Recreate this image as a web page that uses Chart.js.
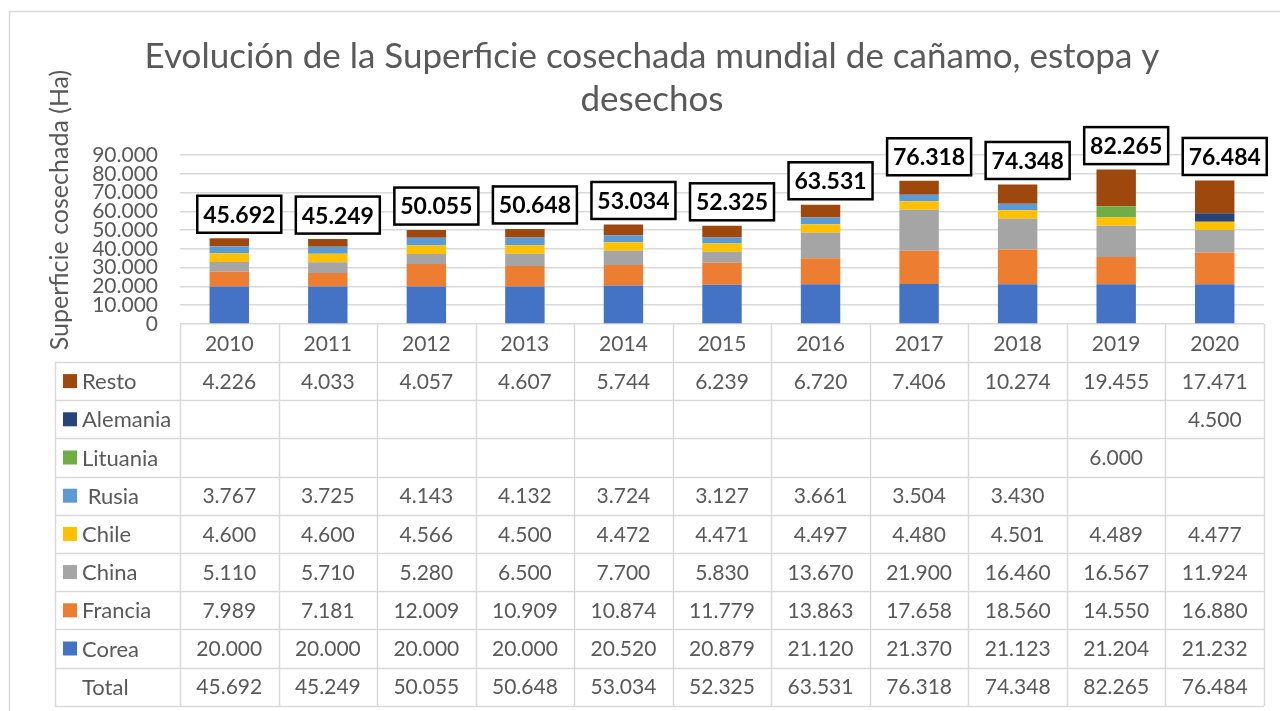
<!DOCTYPE html>
<html>
<head>
<meta charset="utf-8">
<script src="https://cdn.jsdelivr.net/npm/chart.js@4.4.1/dist/chart.umd.min.js"></script>
<style>
  html, body { margin: 0; padding: 0; background: #fff; }
  #wrap { width: 1280px; height: 711px; }
</style>
</head>
<body>
<div id="wrap"><canvas id="chart" width="1280" height="711"></canvas></div>
<script>
// categories
const years = ['2010', '2011', '2012', '2013', '2014', '2015', '2016', '2017', '2018', '2019', '2020'];

// series (Ha)
const corea    = [20000, 20000, 20000, 20000, 20520, 20879, 21120, 21370, 21123, 21204, 21232];
const francia  = [7989, 7181, 12009, 10909, 10874, 11779, 13863, 17658, 18560, 14550, 16880];
const china    = [5110, 5710, 5280, 6500, 7700, 5830, 13670, 21900, 16460, 16567, 11924];
const chile    = [4600, 4600, 4566, 4500, 4472, 4471, 4497, 4480, 4501, 4489, 4477];
const rusia    = [3767, 3725, 4143, 4132, 3724, 3127, 3661, 3504, 3430, null, null];
const lituania = [null, null, null, null, null, null, null, null, null, 6000, null];
const alemania = [null, null, null, null, null, null, null, null, null, null, 4500];
const resto    = [4226, 4033, 4057, 4607, 5744, 6239, 6720, 7406, 10274, 19455, 17471];
const totals   = [45692, 45249, 50055, 50648, 53034, 52325, 63531, 76318, 74348, 82265, 76484];

// y axis ticks
const yTicks = [0, 10000, 20000, 30000, 40000, 50000, 60000, 70000, 80000, 90000];

const FONT = 'Lato';
const GREY = '#595959';
const LINE = '#d9d9d9';

function fmt(n) {
  if (n === null || n === undefined) return '';
  return String(n).replace(/\B(?=(\d{3})+(?!\d))/g, '.');
}

const series = [
  { label: 'Corea', data: corea, color: '#4472C4' },
  { label: 'Francia', data: francia, color: '#ED7D31' },
  { label: 'China', data: china, color: '#A5A5A5' },
  { label: 'Chile', data: chile, color: '#FFC000' },
  { label: ' Rusia', data: rusia, color: '#5B9BD5' },
  { label: 'Lituania', data: lituania, color: '#70AD47' },
  { label: 'Alemania', data: alemania, color: '#264478' },
  { label: 'Resto', data: resto, color: '#9E480E' }
];

// outer frame + y axis title
const framePlugin = {
  id: 'frame',
  beforeDraw(chart) {
    const ctx = chart.ctx;
    ctx.save();
    ctx.fillStyle = '#fff';
    ctx.fillRect(0, 0, chart.width, chart.height);
    ctx.strokeStyle = LINE;
    ctx.lineWidth = 1.5;
    ctx.strokeRect(9.5, 11.5, chart.width + 20, chart.height + 20);
    ctx.translate(60, 210);
    ctx.rotate(-Math.PI / 2);
    ctx.fillStyle = GREY;
    ctx.font = '25px ' + FONT;
    ctx.textAlign = 'center';
    ctx.textBaseline = 'middle';
    ctx.fillText('Superficie cosechada (Ha)', 0, 0);
    ctx.restore();
  }
};

// data table under the plot
const tablePlugin = {
  id: 'dataTable',
  afterDraw(chart) {
    const ctx = chart.ctx;
    const area = chart.chartArea;
    const x = chart.scales.x;
    const colW = area.width / years.length;
    const headTop = area.bottom;
    const rowTop = 362;
    const rowH = 38.2;
    const leftX = 55;
    const rows = series.slice().reverse();
    const nRows = rows.length + 1;
    const bottom = rowTop + nRows * rowH;

    ctx.save();
    ctx.strokeStyle = LINE;
    ctx.lineWidth = 1.5;
    ctx.beginPath();
    for (let i = 0; i <= years.length; i++) {
      const px = Math.round(area.left + i * colW) + 0.5;
      ctx.moveTo(px, headTop);
      ctx.lineTo(px, bottom);
    }
    ctx.moveTo(leftX + 0.5, rowTop);
    ctx.lineTo(leftX + 0.5, bottom);
    for (let r = 0; r <= nRows; r++) {
      const py = Math.round(rowTop + r * rowH) + 0.5;
      ctx.moveTo(leftX, py);
      ctx.lineTo(area.right, py);
    }
    ctx.stroke();

    ctx.fillStyle = GREY;
    ctx.font = '21px ' + FONT;
    ctx.textBaseline = 'middle';
    ctx.textAlign = 'center';
    years.forEach((yr, i) => ctx.fillText(yr, x.getPixelForValue(i), (headTop + rowTop) / 2 + 1));

    rows.forEach((s, r) => {
      const cy = rowTop + r * rowH + rowH / 2;
      ctx.fillStyle = s.color;
      ctx.fillRect(63, cy - 7, 14, 14);
      ctx.fillStyle = GREY;
      ctx.textAlign = 'left';
      ctx.font = '22px ' + FONT;
      ctx.fillText(s.label, 82, cy + 1);
      ctx.font = '21px ' + FONT;
      ctx.textAlign = 'center';
      s.data.forEach((v, i) => ctx.fillText(fmt(v), x.getPixelForValue(i), cy + 1));
    });
    const ty = rowTop + rows.length * rowH + rowH / 2;
    ctx.textAlign = 'left';
    ctx.font = '22px ' + FONT;
    ctx.fillText('Total', 82, ty + 1);
    ctx.font = '21px ' + FONT;
    ctx.textAlign = 'center';
    totals.forEach((v, i) => ctx.fillText(fmt(v), x.getPixelForValue(i), ty + 1));
    ctx.restore();
  }
};

// boxed totals above each bar
const totalsPlugin = {
  id: 'totals',
  afterDatasetsDraw(chart) {
    const ctx = chart.ctx;
    const x = chart.scales.x;
    const y = chart.scales.y;
    ctx.save();
    ctx.font = 'bold 23px ' + FONT;
    ctx.textAlign = 'center';
    ctx.textBaseline = 'middle';
    totals.forEach((v, i) => {
      const cx = x.getPixelForValue(i) + 10;
      const cy = y.getPixelForValue(v) - 24;
      const w = 84, h = 37;
      ctx.fillStyle = '#fff';
      ctx.fillRect(cx - w / 2, cy - h / 2, w, h);
      ctx.strokeStyle = '#000';
      ctx.lineWidth = 2.5;
      ctx.strokeRect(cx - w / 2, cy - h / 2, w, h);
      ctx.fillStyle = '#000';
      ctx.fillText(fmt(v), cx, cy + 1);
    });
    ctx.restore();
  }
};

const ctx = document.getElementById('chart').getContext('2d');
new Chart(ctx, {
  type: 'bar',
  data: {
    labels: years,
    datasets: series.map(s => ({
      label: s.label.trim(),
      data: s.data,
      backgroundColor: s.color,
      borderWidth: 0,
      categoryPercentage: 0.8,
      barPercentage: 0.5
    }))
  },
  options: {
    responsive: false,
    animation: false,
    layout: { padding: { left: 40, right: 16, top: 0, bottom: 379 } },
    plugins: {
      legend: { display: false },
      tooltip: { enabled: false },
      title: {
        display: true,
        text: ['Evolución de la Superficie cosechada mundial de cañamo, estopa y', 'desechos'],
        color: GREY,
        font: { family: FONT, size: 35, weight: 'normal', lineHeight: 1.23 },
        padding: { top: 35, bottom: 34 }
      }
    },
    scales: {
      x: {
        stacked: true,
        grid: { display: false },
        border: { display: false },
        ticks: { display: false }
      },
      y: {
        stacked: true,
        min: 0,
        max: 90000,
        afterBuildTicks(scale) { scale.ticks = yTicks.map(v => ({ value: v })); },
        afterFit(scale) { scale.width = 140; },
        grid: { color: LINE, lineWidth: 1.5, drawTicks: false },
        border: { display: false },
        ticks: {
          autoSkip: false,
          padding: 22,
          color: GREY,
          font: { family: FONT, size: 21 },
          callback: v => fmt(v)
        }
      }
    }
  },
  plugins: [framePlugin, tablePlugin, totalsPlugin]
});
</script>
</body>
</html>
